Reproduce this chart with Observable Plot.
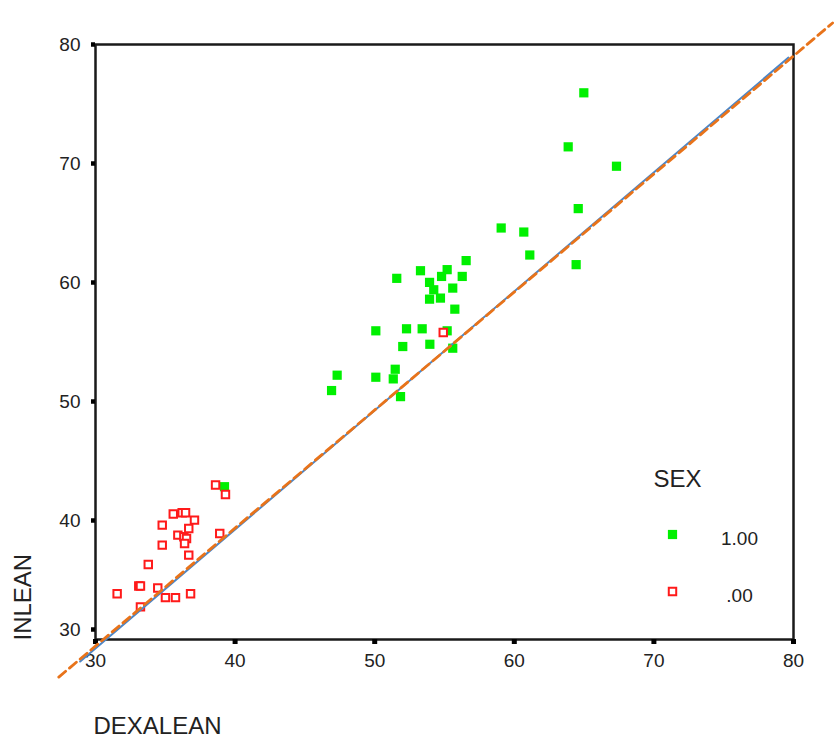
<!DOCTYPE html>
<html>
<head>
<meta charset="utf-8">
<script src="https://cdn.jsdelivr.net/npm/d3@7"></script>
<script src="https://cdn.jsdelivr.net/npm/@observablehq/plot@0.6"></script>
<style>
  html, body { margin: 0; padding: 0; background: #fff; }
  #chart svg { display: block; }
</style>
</head>
<body>
<div id="chart"></div>
<script>
// SEX = 1.00 (green filled squares)
const maleDexa   = [39.24, 64.98, 63.86, 67.32, 64.58, 59.06, 60.68, 61.11, 64.43, 56.55, 53.28, 55.19, 54.79, 56.27, 51.58, 53.93, 55.59, 54.23, 53.93, 54.71, 55.74, 50.08, 52.28, 53.40, 55.19, 52.01, 53.95, 55.59, 47.31, 50.08, 51.47, 51.33, 46.91, 51.85];
const maleInlean = [42.84, 75.94, 71.40, 69.77, 66.21, 64.58, 64.24, 62.31, 61.50, 61.84, 60.99, 61.08, 60.51, 60.51, 60.35, 60.01, 59.53, 59.39, 58.60, 58.69, 57.76, 55.94, 56.11, 56.11, 55.94, 54.62, 54.81, 54.48, 52.21, 52.04, 52.71, 51.90, 50.92, 50.41];
// SEX = .00 (red hollow squares)
const femaleDexa   = [38.60, 39.31, 35.57, 36.21, 36.45, 37.09, 34.78, 36.68, 35.90, 36.33, 36.52, 36.38, 34.78, 36.68, 38.90, 33.78, 33.10, 33.22, 31.55, 34.46, 36.81, 35.01, 35.73, 33.22, 54.91];
const femaleInlean = [42.98, 42.19, 40.54, 40.65, 40.65, 40.03, 39.61, 39.33, 38.77, 38.63, 38.48, 38.06, 37.93, 37.09, 38.91, 36.30, 34.50, 34.50, 33.85, 34.33, 33.85, 33.52, 33.52, 32.74, 55.80];
// fit line (solid blue) and reference line (dashed orange)
const fitX = [28.9, 79.64];
const fitY = [28.15, 78.9];
const refX = [27.37, 82.8];
const refY = [26.84, 81.81];
// ticks and labels
const xTicks = [30, 40, 50, 60, 70, 80];
const yTicks = [40, 50, 60, 70, 80];
const yBottomTick = [30];
const legendTitle = "SEX";
const legendLabels = ["1.00", ".00"];
const xTitle = "DEXALEAN";
const yTitle = "INLEAN";

const males = maleDexa.map((d, i) => ({x: d, y: maleInlean[i]}));
const females = femaleDexa.map((d, i) => ({x: d, y: femaleInlean[i]}));
const fitLine = fitX.map((d, i) => ({x: d, y: fitY[i]}));
const refLine = refX.map((d, i) => ({x: d, y: refY[i]}));

const font = "'Liberation Sans', Arial, sans-serif";
const ink = "#222";
const green = "#00f000";
const red = "#ff1a1a";

const chart = Plot.plot({
  width: 836,
  height: 738,
  marginLeft: 95,
  marginRight: 43,
  marginTop: 44,
  marginBottom: 99,
  style: {fontFamily: font, fontSize: "19px", color: ink, background: "#fff"},
  x: {domain: [30, 80]},
  y: {domain: [30, 80]},
  marks: [
    Plot.frame({stroke: "#1a1a1a", strokeWidth: 2.5}),
    Plot.axisX({ticks: xTicks, tickSize: 5, tickPadding: 9, strokeWidth: 5, stroke: "#000", fill: ink, fontSize: 19, label: null, tickFormat: d => String(d)}),
    Plot.axisY({ticks: yTicks, tickSize: 4, tickPadding: 11, strokeWidth: 4.5, stroke: "#000", fill: ink, fontSize: 19, label: null, tickFormat: d => String(d)}),
    Plot.axisY({ticks: yBottomTick, tickSize: 4, tickPadding: 11, strokeWidth: 4.5, stroke: "#000", fill: ink, fontSize: 19, label: null, dy: -10, tickFormat: d => String(d)}),
    Plot.dot(males, {x: "x", y: "y", symbol: "square", r: 5.2, fill: green, stroke: null}),
    Plot.dot(females, {x: "x", y: "y", symbol: "square", r: 4.2, fill: "#fff", stroke: red, strokeWidth: 2}),
    Plot.line(fitLine, {x: "x", y: "y", stroke: "#4a86c8", strokeWidth: 2}),
    Plot.line(refLine, {x: "x", y: "y", stroke: "#e8731a", strokeWidth: 2.8, strokeDasharray: "9,5"}),
    // legend
    Plot.text([legendTitle], {frameAnchor: "top-left", dx: 558, dy: 435, textAnchor: "start", lineAnchor: "middle", fontSize: 24, fill: ink}),
    Plot.dot([legendLabels[0]], {frameAnchor: "top-left", dx: 577, dy: 490, symbol: "square", r: 5.2, fill: green, stroke: null}),
    Plot.text([legendLabels[0]], {frameAnchor: "top-left", dx: 644, dy: 494, textAnchor: "middle", lineAnchor: "middle", fontSize: 19, fill: ink}),
    Plot.dot([legendLabels[1]], {frameAnchor: "top-left", dx: 577, dy: 547, symbol: "square", r: 4.2, fill: "#fff", stroke: red, strokeWidth: 2}),
    Plot.text([legendLabels[1]], {frameAnchor: "top-left", dx: 644, dy: 551, textAnchor: "middle", lineAnchor: "middle", fontSize: 19, fill: ink}),
    // axis titles
    Plot.text([xTitle], {frameAnchor: "bottom-left", dx: -2, dy: 87, textAnchor: "start", lineAnchor: "middle", fontSize: 24, fill: ink}),
    Plot.text([yTitle], {frameAnchor: "bottom-left", dx: -72.5, dy: 1, rotate: -90, textAnchor: "start", lineAnchor: "middle", fontSize: 24, fill: ink})
  ]
});
document.getElementById("chart").appendChild(chart);
</script>
</body>
</html>
